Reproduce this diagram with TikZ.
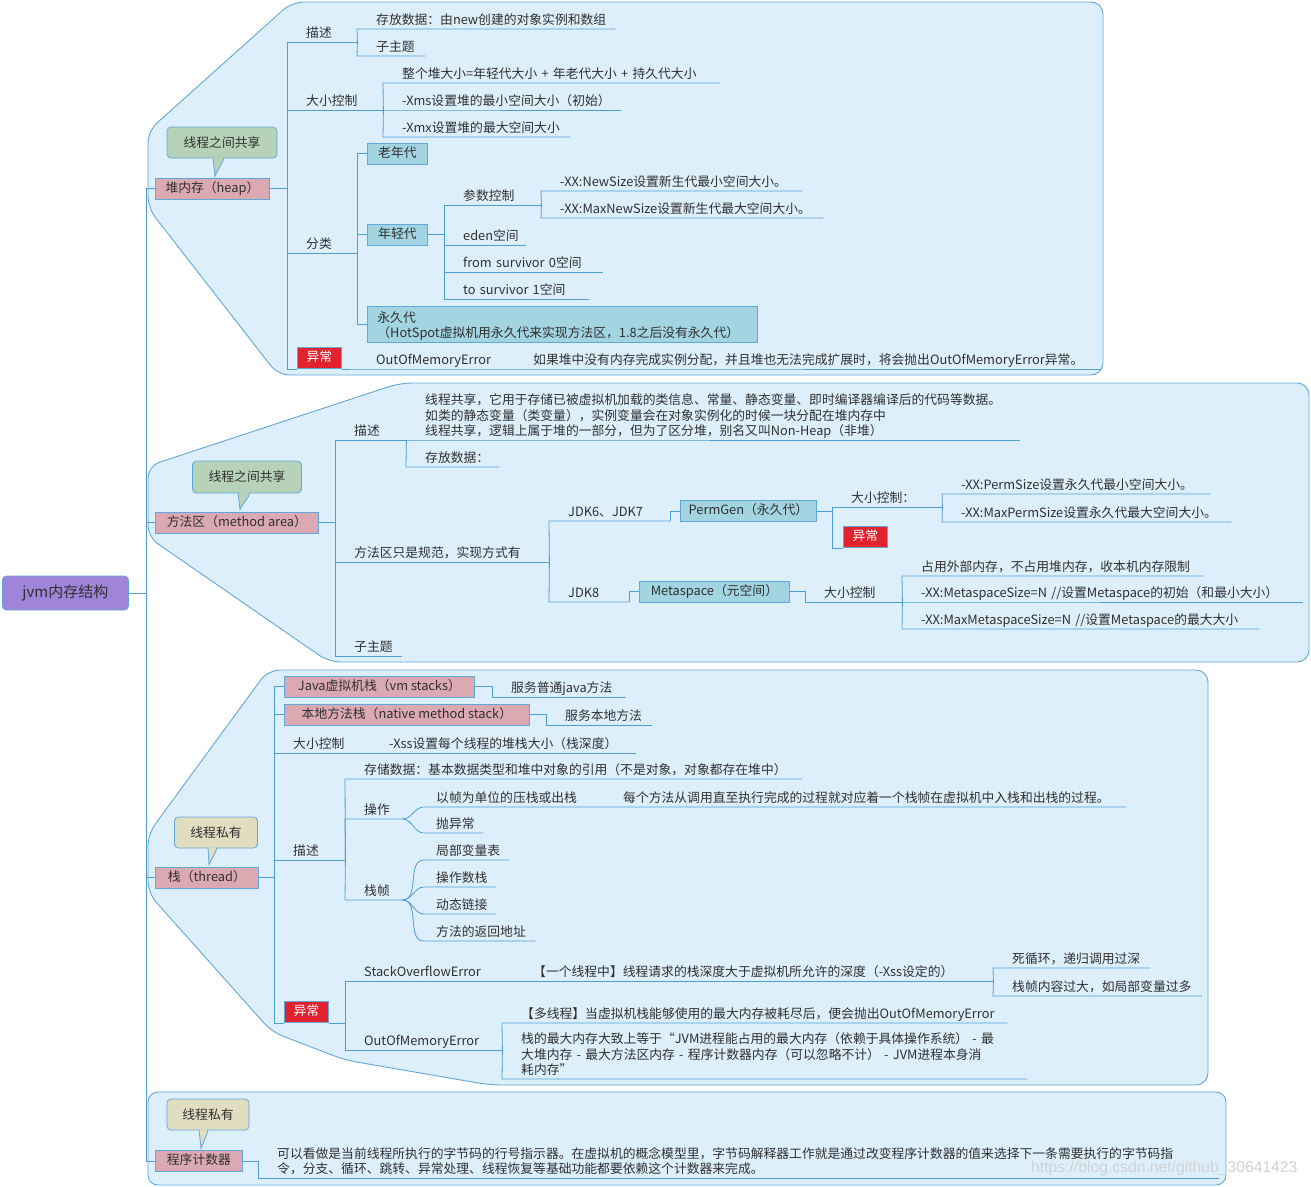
\documentclass[tikz,border=0pt]{standalone}
\usepackage{fontspec}
\setmainfont{Noto Sans CJK SC}
\newfontfamily\markfont{Liberation Sans}
\usepackage{xcolor}

\definecolor{areac}{RGB}{222,239,252}
\definecolor{edgec}{RGB}{98,167,218}
\definecolor{linec}{RGB}{78,158,214}
\definecolor{pinkc}{RGB}{219,169,177}
\definecolor{aquac}{RGB}{162,212,226}
\definecolor{redc}{RGB}{225,35,48}
\definecolor{rootc}{RGB}{160,132,218}
\definecolor{greenc}{RGB}{182,211,186}
\definecolor{beigec}{RGB}{224,221,193}
\definecolor{txtc}{RGB}{48,48,48}

\begin{document}
\begin{tikzpicture}[
    x=1pt, y=-1pt,
    every node/.style={font=\fontsize{12.8}{15.3}\selectfont, text=txtc},
    link/.style={draw=linec, line width=0.8pt},
    region/.style={draw=edgec, fill=areac, line width=0.9pt, rounded corners=#1},
    region/.default=12pt,
    box/.style={rectangle, draw=edgec, line width=0.8pt, fill=#1, inner sep=0pt, minimum height=21pt, text height=9.5pt, text depth=2.5pt, anchor=west},
    box/.default=pinkc,
    part/.style={box=pinkc},
    gen/.style={box=aquac},
    alarm/.style={box=redc, text=white, minimum width=44pt, anchor=south west},
    bubble/.style={rectangle, draw=edgec, line width=0.8pt, fill=#1, rounded corners=4pt, inner sep=0pt, minimum height=31pt},
    tail/.style={draw=edgec, line width=0.8pt, fill=#1},
    topic/.style={anchor=south west, inner sep=0pt, text width=#1, align=left, text depth=4.5pt, execute at begin node={\leftskip=19pt\relax}},
    leaf/.style={topic=#1, execute at begin node={\leftskip=12pt\relax}},
]
    \useasboundingbox (0,0) rectangle (1311,1186);
    \fill[white] (0,0) rectangle (1311,1186);

    % --- Boundaries round the four branches ---
    \draw[region] (292,2) -- (1103,2) -- (1103,375) -- (278,375) -- (148,208) -- (148,131) -- cycle;
    \draw[region] (400,383) -- (1309,383) -- (1309,662) -- (329,662) -- (148,537) -- (148,466) -- cycle;
    \draw[region] (268,670) -- (1208,670) -- (1208,1085) -- (490,1085) -- (345,1060) -- (272,1032) -- (148,893) -- (148,834) -- cycle;
    \draw[region=10pt] (148,1092) rectangle (1226,1185);

    % --- Root ---
    \node[box=rootc, minimum width=126pt, minimum height=34pt, rounded corners=4pt,
          font=\fontsize{15}{18}\selectfont, text height=11pt, text depth=3pt] (root) at (2,593) {jvm内存结构};
    \coordinate (spine) at (146,593);

    % --- Heap ---
    \node[bubble=greenc, minimum width=110pt] (cshare1) at (222,142.5) {线程之间共享};
    \filldraw[tail=greenc] ([xshift=-9pt,yshift=1pt]cshare1.south) -- ++(2,19)
        .. controls +(3,-8) and +(-1,6) .. ([xshift=2pt,yshift=1pt]cshare1.south);
    \node[part, minimum width=114pt] (heap) at (155,188.5) {堆内存（heap）};

    \node[topic=70pt] (hdesc) at (287,42) {描述};
    \node[topic=258pt] (hdata) at (357,29) {存放数据：由new创建的对象实例和数组};
    \node[topic=68pt] (hsub) at (357,56) {子主题};
    \node[topic=96pt] (hsize) at (287,110) {大小控制};
    \node[topic=337pt] (hsz1) at (383,83) {整个堆大小=年轻代大小~+~年老代大小~+~持久代大小};
    \node[topic=238pt] (hsz2) at (383,110) {-Xms设置堆的最小空间大小（初始）};
    \node[topic=187pt] (hsz3) at (383,137) {-Xmx设置堆的最大空间大小};
    \node[topic=70pt] (hkind) at (287,253) {分类};

    \node[gen, minimum width=60pt] (old) at (367,153.5) {老年代};
    \node[gen, minimum width=60pt] (young) at (367,234.5) {年轻代};
    \node[gen, anchor=north west, align=left, text width=370pt, inner xsep=10pt,
          text height=16pt, text depth=19.8pt] (perm) at (367,306)
        {永久代\\（HotSpot虚拟机用永久代来实现方法区，1.8之后没有永久代）};

    \node[topic=97pt] (yparam) at (444,205) {参数控制};
    \node[topic=261pt] (yp1) at (541,191) {-XX:NewSize设置新生代最小空间大小。};
    \node[topic=282pt] (yp2) at (541,218) {-XX:MaxNewSize设置新生代最大空间大小。};
    \node[topic=82pt] (yeden) at (444,245) {eden空间};
    \node[topic=159pt] (yfrom) at (444,272) {from~survivor~0空间};
    \node[topic=145pt] (yto) at (444,299) {to~survivor~1空间};

    \node[alarm] (hexc) at (297,369) {异常};
    \node[topic=157pt] (hoom) at (357,369) {OutOfMemoryError};
    \node[topic=587pt] (hoomtxt) at (514,369) {如果堆中没有内存完成实例分配，并且堆也无法完成扩展时，将会抛出OutOfMemoryError异常。};

    % --- Method area ---
    \node[bubble=greenc, minimum width=109pt, minimum height=32pt] (cshare2) at (247,477) {线程之间共享};
    \filldraw[tail=greenc] ([xshift=-9pt,yshift=1pt]cshare2.south) -- ++(2,17)
        .. controls +(3,-7) and +(-1,6) .. ([xshift=3pt,yshift=1pt]cshare2.south);
    \node[part, minimum width=163pt] (marea) at (155,522.5) {方法区（method area）};

    \node[topic=71pt] (mdesc) at (335,440) {描述};
    \node[topic=614pt, text depth=35.1pt] (mdtxt) at (406,440)
        {线程共享，它用于存储已被虚拟机加载的类信息、常量、静态变量、即时编译器编译后的代码等数据。\\
         如类的静态变量（类变量），实例变量会在对象实例化的时候一块分配在堆内存中\\
         线程共享，逻辑上属于堆的一部分，但为了区分堆，别名又叫Non-Heap（非堆）};
    \node[topic=93pt] (mdata) at (406,467) {存放数据：};
    \node[topic=214pt] (mimpl) at (335,562) {方法区只是规范，实现方式有};
    \node[topic=121pt] (jdk67) at (549,521) {JDK6、JDK7};
    \node[topic=80pt] (jdk8) at (549,602) {JDK8};

    \node[gen, minimum width=136pt] (permgen) at (680,511) {PermGen（永久代）};
    \node[topic=110pt] (psize) at (832,507) {大小控制：};
    \node[topic=268pt] (ps1) at (942,494) {-XX:PermSize设置永久代最小空间大小。};
    \node[topic=289pt] (ps2) at (942,522) {-XX:MaxPermSize设置永久代最大空间大小。};
    \node[alarm] (pexc) at (843,548) {异常};

    \node[gen, minimum width=150pt] (meta) at (639,591.5) {Metaspace（元空间）};
    \node[topic=97pt] (msize) at (805,602) {大小控制};
    \node[topic=301pt] (ms1) at (902,576) {占用外部内存，不占用堆内存，收本机内存限制};
    \node[topic=401pt] (ms2) at (902,602) {-XX:MetaspaceSize=N~//设置Metaspace的初始（和最小大小）};
    \node[topic=357pt] (ms3) at (902,629) {-XX:MaxMetaspaceSize=N~//设置Metaspace的最大大小};
    \node[topic=67pt] (msub) at (335,656) {子主题};

    % --- Stack ---
    \node[bubble=beigec, minimum width=83pt] (cpriv1) at (216,832.5) {线程私有};
    \filldraw[tail=beigec] ([xshift=-8pt,yshift=1pt]cpriv1.south) -- ++(1,17)
        .. controls +(3,-7) and +(-1,6) .. ([xshift=1pt,yshift=1pt]cpriv1.south);
    \node[part, minimum width=103pt] (stack) at (155,877.5) {栈（thread）};

    \node[part, minimum width=190pt] (jvms) at (284,686.5) {Java虚拟机栈（vm stacks）};
    \node[part, minimum width=245pt] (native) at (284,714.5) {本地方法栈（native method stack）};
    \node[topic=134pt] (jvmsd) at (492,697) {服务普通java方法};
    \node[topic=106pt] (natd) at (546,725) {服务本地方法};
    \node[topic=96pt] (ssize) at (274,753) {大小控制};
    \node[topic=266pt] (sxss) at (370,753) {-Xss设置每个线程的堆栈大小（栈深度）};

    \node[topic=71pt] (sdesc) at (274,860) {描述};
    \node[topic=457pt] (sdata) at (345,779) {存储数据：基本数据类型和堆中对象的引用（不是对象，对象都存在堆中）};
    \node[topic=57pt] (sop) at (345,819) {操作};
    \node[leaf=180pt] (sop1) at (424,807) {以帧为单位的压栈或出栈};
    \node[topic=522pt] (sop1d) at (604,807) {每个方法从调用直至执行完成的过程就对应着一个栈帧在虚拟机中入栈和出栈的过程。};
    \node[leaf=59pt] (sop2) at (424,833) {抛异常};
    \node[topic=57pt] (sframe) at (345,900) {栈帧};
    \node[leaf=85pt] (sf1) at (424,860) {局部变量表};
    \node[leaf=72pt] (sf2) at (424,887) {操作数栈};
    \node[leaf=72pt] (sf3) at (424,914) {动态链接};
    \node[leaf=111pt] (sf4) at (424,941) {方法的返回地址};

    \node[alarm] (sexc) at (284,1023) {异常};
    \node[topic=169pt] (sso) at (345,981) {StackOverflowError};
    \node[topic=479pt] (ssod) at (514,981) {【一个线程中】线程请求的栈深度大于虚拟机所允许的深度（-Xss设定的）};
    \node[topic=157pt] (sso1) at (993,968) {死循环，递归调用过深};
    \node[topic=209pt] (sso2) at (993,996) {栈帧内容过大，如局部变量过多};
    \node[topic=157pt] (soom) at (345,1050) {OutOfMemoryError};
    \node[topic=505pt] (soom1) at (502,1023) {【多线程】当虚拟机栈能够使用的最大内存被耗尽后，便会抛出OutOfMemoryError};
    \node[topic=525pt, text depth=35.1pt] (soom2) at (502,1079)
        {栈的最大内存大致上等于“JVM进程能占用的最大内存（依赖于具体操作系统） - 最\\
         大堆内存 - 最大方法区内存 - 程序计数器内存（可以忽略不计） - JVM进程本身消\\
         耗内存”};

    % --- Program counter ---
    \node[bubble=beigec, minimum width=82pt] (cpriv2) at (208,1114.5) {线程私有};
    \filldraw[tail=beigec] ([xshift=-9pt,yshift=1pt]cpriv2.south) -- ++(2,19)
        .. controls +(3,-8) and +(-1,6) .. ([xshift=0pt,yshift=1pt]cpriv2.south);
    \node[part, minimum width=87pt] (pc) at (155,1161) {程序计数器};
    \node[topic=961pt, text depth=19.8pt] (pcd) at (258,1178)
        {可以看做是当前线程所执行的字节码的行号指示器。在虚拟机的概念模型里，字节码解释器工作就是通过改变程序计数器的值来选择下一条需要执行的字节码指\\
         令，分支、循环、跳转、异常处理、线程恢复等基础功能都要依赖这个计数器来完成。};

    \node[font=\markfont\fontsize{15.7}{18}\selectfont, text=black!18, anchor=west, inner sep=0pt] (mark) at (1031,1168)
        {https://blog.csdn.net/github\_30641423};

    % --- Wiring: root and spine ---
    \draw[link] (root.east) -- (spine) |- (heap.west);
    \draw[link] (spine) |- (marea.west);
    \draw[link] (spine) |- (stack.west);
    \draw[link] (spine) |- (pc.west);

    % --- Wiring: heap ---
    \draw[link] (heap.east) -| (hdesc.south west) -- (hdesc.south east);
    \draw[link] (hdesc.south east) -- (hdata.south west) -- (hdata.south east);
    \draw[link] (hdesc.south east) -- (hsub.south west) -- (hsub.south east);
    \draw[link] (heap.east) -| (hsize.south west) -- (hsize.south east);
    \draw[link] (hsize.south east) -- (hsz1.south west) -- (hsz1.south east);
    \draw[link] (hsize.south east) -- (hsz2.south west) -- (hsz2.south east);
    \draw[link] (hsize.south east) -- (hsz3.south west) -- (hsz3.south east);
    \draw[link] (heap.east) -| (hkind.south west) -- (hkind.south east);
    \draw[link] (hkind.south east) |- (old.west);
    \draw[link] (hkind.south east) |- (young.west);
    \draw[link] (hkind.south east) |- (perm.west);
    \draw[link] (young.east) -| (yparam.south west) -- (yparam.south east);
    \draw[link] (yparam.south east) -- (yp1.south west) -- (yp1.south east);
    \draw[link] (yparam.south east) -- (yp2.south west) -- (yp2.south east);
    \draw[link] (young.east) -| (yeden.south west) -- (yeden.south east);
    \draw[link] (young.east) -| (yfrom.south west) -- (yfrom.south east);
    \draw[link] (young.east) -| (yto.south west) -- (yto.south east);
    \draw[link] (hkind.south west) |- (hexc.south west);
    \draw[link] (hexc.south east) -- (hoom.south west) -- (hoom.south east) -- (hoomtxt.south east);

    % --- Wiring: method area ---
    \draw[link] (marea.east) -| (mdesc.south west) -- (mdesc.south east);
    \draw[link] (mdesc.south east) -- (mdtxt.south west) -- (mdtxt.south east);
    \draw[link] (mdesc.south east) -- (mdata.south west) -- (mdata.south east);
    \draw[link] (marea.east) -| (mimpl.south west) -- (mimpl.south east);
    \draw[link] (mimpl.south east) -- (jdk67.south west) -- (jdk67.south east);
    \draw[link] (mimpl.south east) -- (jdk8.south west) -- (jdk8.south east);
    \draw[link] (jdk67.south east) |- (permgen.west);
    \draw[link] (jdk8.south east) |- (meta.west);
    \draw[link] (permgen.east) -| (psize.south west) -- (psize.south east);
    \draw[link] (psize.south east) -- (ps1.south west) -- (ps1.south east);
    \draw[link] (psize.south east) -- (ps2.south west) -- (ps2.south east);
    \draw[link] (psize.south west) |- (pexc.south west);
    \draw[link] (meta.east) -| (msize.south west) -- (msize.south east);
    \draw[link] (msize.south east) -- (ms1.south west) -- (ms1.south east);
    \draw[link] (msize.south east) -- (ms2.south west) -- (ms2.south east);
    \draw[link] (msize.south east) -- (ms3.south west) -- (ms3.south east);
    \draw[link] (marea.east) -| (msub.south west) -- (msub.south east);

    % --- Wiring: stack ---
    \draw[link] (stack.east) -| (ssize.south west) -- (ssize.south east) -- (sxss.south east);
    \draw[link] (ssize.south west) |- (jvms.west);
    \draw[link] (ssize.south west) |- (native.west);
    \draw[link] (jvms.east) -| (jvmsd.south west) -- (jvmsd.south east);
    \draw[link] (native.east) -| (natd.south west) -- (natd.south east);
    \draw[link] (stack.east) -| (sdesc.south west) -- (sdesc.south east);
    \draw[link] (sdesc.south east) -- (sdata.south west) -- (sdata.south east);
    \draw[link] (sdesc.south east) -- (sop.south west) -- (sop.south east);
    \draw[link] (sdesc.south east) -- (sframe.south west) -- (sframe.south east);
    \draw[link] (sop.south east) to[out=0, in=180] (sop1.south west) -- (sop1.south east) -- (sop1d.south east);
    \draw[link] (sop.south east) to[out=0, in=180] (sop2.south west) -- (sop2.south east);
    \draw[link] (sframe.south east) to[out=0, in=180] (sf1.south west) -- (sf1.south east);
    \draw[link] (sframe.south east) to[out=0, in=180] (sf2.south west) -- (sf2.south east);
    \draw[link] (sframe.south east) to[out=0, in=180] (sf3.south west) -- (sf3.south east);
    \draw[link] (sframe.south east) to[out=0, in=180] (sf4.south west) -- (sf4.south east);
    \draw[link] (sdesc.south west) |- (sexc.south west);
    \draw[link] (sexc.south east) -| (sso.south west) -- (sso.south east) -- (ssod.south east);
    \draw[link] (ssod.south east) -- (sso1.south west) -- (sso1.south east);
    \draw[link] (ssod.south east) -- (sso2.south west) -- (sso2.south east);
    \draw[link] (sexc.south east) -| (soom.south west) -- (soom.south east);
    \draw[link] (soom.south east) -- (soom1.south west) -- (soom1.south east);
    \draw[link] (soom.south east) -- (soom2.south west) -- (soom2.south east);

    % --- Wiring: program counter ---
    \draw[link] (pc.east) -| (pcd.south west) -- (pcd.south east);
\end{tikzpicture}
\end{document}
